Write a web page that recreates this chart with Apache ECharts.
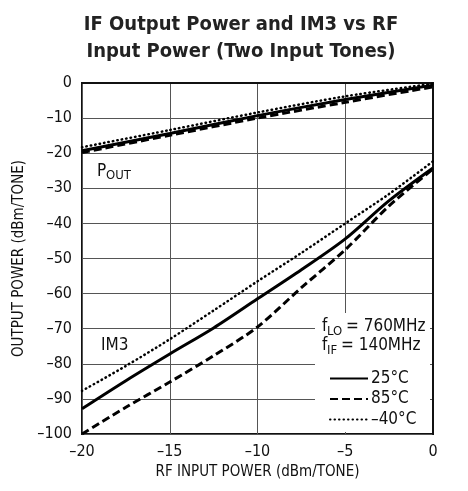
<!DOCTYPE html>
<html>
<head>
<meta charset="utf-8">
<script src="https://cdn.jsdelivr.net/npm/echarts@6/dist/echarts.min.js"></script>
<style>
  html, body { margin: 0; padding: 0; background: #fff; }
  #chart { width: 468px; height: 491px; }
</style>
</head>
<body>
<div id="chart"></div>
<script>
// RF input power (dBm/tone)
const poutX = [-20, -15, -10, -5, 0]
const pout25 = [-19.3, -14.4, -9.3, -4.7, -0.6]
const pout85 = [-19.8, -14.9, -10.0, -5.5, -1.1]
const poutM40 = [-18.3, -13.4, -8.4, -3.8, -0.2]

const im3X = [-20, -17.5, -15, -12.5, -10, -7.5, -5, -2.5, 0]
const im3_25 = [-92.8, -84.8, -77.2, -69.8, -61.5, -53.2, -44.4, -33.5, -24.2]
const im3_85 = [-100, -92.4, -85.2, -77.7, -69.5, -58.3, -47.5, -35.0, -24.5]
const im3_M40 = [-87.7, -80.6, -73.0, -64.8, -56.5, -48.4, -40.0, -31.6, -22.3]

const tempNames = ['25°C', '85°C', '–40°C']

const FONT = '"Liberation Sans Narrow", "DejaVu Sans Condensed", "Liberation Sans", sans-serif'

const pair = (xs, ys) => xs.map((x, i) => [x, ys[i]])
const minus = v => String(v).replace('-', '–')

const styles = [
  { type: 'solid', width: 3 },
  { type: [8, 4], width: 3 },
  { type: [0.5, 4], width: 2.5, cap: 'round' }
]

const mkSeries = (name, data, st) => ({
  name: name,
  type: 'line',
  data: data,
  symbol: 'none',
  smooth: 0.3,
  z: 5,
  lineStyle: { color: '#000', width: st.width, type: st.type, cap: st.cap || 'butt' },
  itemStyle: { color: '#000' }
})

const chart = echarts.init(document.getElementById('chart'))

const option = {
  animation: false,
  backgroundColor: '#fff',
  textStyle: { fontFamily: FONT },
  grid: {
    left: 82, right: 35, top: 83, bottom: 57,
    show: true, borderColor: '#111', borderWidth: 2
  },
  xAxis: {
    type: 'value', min: -20, max: 0, interval: 5,
    name: 'RF INPUT POWER (dBm/TONE)',
    nameLocation: 'middle', nameGap: 30,
    nameTextStyle: { fontSize: 15, color: '#111', fontFamily: FONT },
    axisLine: { lineStyle: { color: '#111', width: 2 } },
    axisTick: { show: false },
    axisLabel: { formatter: minus, fontSize: 16, color: '#111', margin: 10, fontFamily: FONT },
    splitLine: { lineStyle: { color: '#555', width: 1 } }
  },
  yAxis: {
    type: 'value', min: -100, max: 0, interval: 10,
    name: 'OUTPUT POWER (dBm/TONE)',
    nameLocation: 'middle', nameGap: 50,
    nameTextStyle: { fontSize: 15, color: '#111', fontFamily: FONT },
    axisLine: { show: true, lineStyle: { color: '#111', width: 2 } },
    axisTick: { show: false },
    axisLabel: { formatter: minus, fontSize: 16, color: '#111', margin: 10, fontFamily: FONT },
    splitLine: { lineStyle: { color: '#555', width: 1 } }
  },
  legend: {
    data: tempNames,
    orient: 'vertical',
    left: 324, top: 365,
    itemWidth: 38, itemHeight: 14, itemGap: 3.5,
    itemStyle: { opacity: 0 },
    textStyle: { fontSize: 17, color: '#111', lineHeight: 14, padding: [0, 0, 0, -2], fontFamily: FONT },
    selectedMode: false
  },
  graphic: [
    {
      type: 'text', x: 241, y: 11, z: 10,
      style: {
        text: 'IF Output Power and IM3 vs RF\nInput Power (Two Input Tones)',
        fill: '#222', font: 'bold 20px ' + FONT, align: 'center', lineHeight: 27
      }
    },
    { type: 'rect', shape: { x: 315, y: 313, width: 115, height: 119 }, style: { fill: '#fff' }, z: 1 },
    { type: 'text', x: 322, y: 318, z: 10, style: { text: 'f', fill: '#111', font: '17px ' + FONT } },
    { type: 'text', x: 327, y: 325, z: 10, style: { text: 'LO', fill: '#111', font: '13px ' + FONT } },
    { type: 'text', x: 346, y: 318, z: 10, style: { text: '= 760MHz', fill: '#111', font: '17px ' + FONT } },
    { type: 'text', x: 322, y: 337, z: 10, style: { text: 'f', fill: '#111', font: '17px ' + FONT } },
    { type: 'text', x: 327, y: 344, z: 10, style: { text: 'IF', fill: '#111', font: '13px ' + FONT } },
    { type: 'text', x: 341, y: 337, z: 10, style: { text: '= 140MHz', fill: '#111', font: '17px ' + FONT } },
    { type: 'text', x: 97, y: 163, z: 10, style: { text: 'P', fill: '#111', font: '17px ' + FONT } },
    { type: 'text', x: 106, y: 169, z: 10, style: { text: 'OUT', fill: '#111', font: '13px ' + FONT } },
    { type: 'text', x: 101, y: 337, z: 10, style: { text: 'IM3', fill: '#111', font: '17px ' + FONT } }
  ],
  series: [
    mkSeries(tempNames[0], pair(poutX, pout25), styles[0]),
    mkSeries(tempNames[1], pair(poutX, pout85), styles[1]),
    mkSeries(tempNames[2], pair(poutX, poutM40), styles[2]),
    mkSeries(tempNames[0], pair(im3X, im3_25), styles[0]),
    mkSeries(tempNames[1], pair(im3X, im3_85), styles[1]),
    mkSeries(tempNames[2], pair(im3X, im3_M40), styles[2])
  ]
}

chart.setOption(option)
</script>
</body>
</html>
